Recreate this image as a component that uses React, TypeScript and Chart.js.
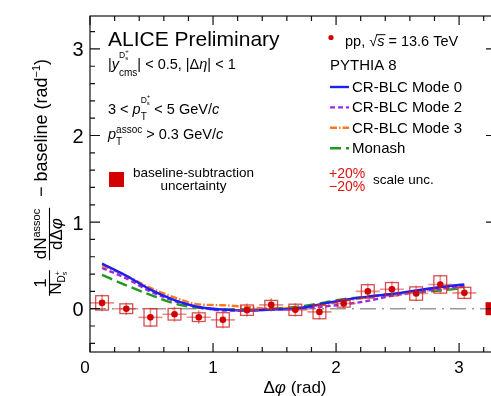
import React, { useEffect, useRef } from "react";
import { Chart, registerables } from "chart.js";

Chart.register(...registerables);

// ---------- data ----------
const X_BINS = [0.098, 0.295, 0.491, 0.687, 0.884, 1.08, 1.276, 1.473, 1.669, 1.865, 2.062, 2.258, 2.454, 2.651, 2.847, 3.043];
const DATA_Y = [0.067, 0.0, -0.1, -0.064, -0.098, -0.129, -0.017, 0.044, -0.013, -0.037, 0.06, 0.2, 0.225, 0.175, 0.28, 0.183];
const STAT_ERR = [0.096, 0.073, 0.11, 0.087, 0.077, 0.1, 0.077, 0.077, 0.077, 0.087, 0.06, 0.09, 0.09, 0.09, 0.105, 0.07];
const SYST_ERR = [0.083, 0.056, 0.1, 0.067, 0.05, 0.083, 0.06, 0.052, 0.065, 0.079, 0.042, 0.077, 0.077, 0.077, 0.1, 0.064];
const X_ERR = 0.098;
const SYST_HALF_WIDTH = 0.052;
const BASELINE_UNC = 0.075;
const BASELINE_UNC_X = [3.215, 3.29];

const MODE0 = [0.52, 0.38, 0.22, 0.1, 0.02, -0.01, -0.02, -0.01, 0.0, 0.05, 0.1, 0.14, 0.17, 0.21, 0.25, 0.28];
const MODE2 = [0.47, 0.35, 0.2, 0.09, 0.02, -0.02, -0.02, -0.01, 0.0, 0.02, 0.05, 0.09, 0.15, 0.19, 0.23, 0.26];
const MODE3 = [0.5, 0.38, 0.24, 0.13, 0.05, 0.04, 0.02, 0.0, 0.01, 0.04, 0.09, 0.13, 0.17, 0.2, 0.23, 0.25];
const MONASH = [0.39, 0.27, 0.16, 0.06, 0.01, -0.01, -0.01, 0.0, 0.02, 0.06, 0.11, 0.14, 0.17, 0.19, 0.21, 0.24];

const X_TICKS = [0, 1, 2, 3];
const Y_TICKS = [0, 1, 2, 3];
const X_RANGE = [0, 3.3];
const Y_RANGE = [-0.5, 3.38];
const MINOR_STEP = 0.2;

const MODELS = [
  { label: "CR-BLC Mode 0", values: MODE0, color: "#1f1ff5", dash: [] as number[] },
  { label: "CR-BLC Mode 2", values: MODE2, color: "#9a2be2", dash: [5, 3] },
  { label: "CR-BLC Mode 3", values: MODE3, color: "#ff7a1f", dash: [7, 2, 1.5, 2] },
  { label: "Monash", values: MONASH, color: "#1f9a1f", dash: [11, 5] },
];

// ---------- text helpers ----------
const FONT = '"Liberation Sans", Arial, Helvetica, sans-serif';
type Part = { t?: string; s?: number; dy?: number; i?: boolean; c?: string; o?: boolean; sup?: Part[]; sub?: Part[] };

function fontOf(p: Part) {
  return `${p.i ? "italic " : ""}${p.s || 14}px ${FONT}`;
}
function widthOf(ctx: CanvasRenderingContext2D, parts: Part[]): number {
  let w = 0;
  for (const p of parts) {
    if (p.sup || p.sub) {
      w += Math.max(p.sup ? widthOf(ctx, p.sup) : 0, p.sub ? widthOf(ctx, p.sub) : 0);
    } else {
      ctx.font = fontOf(p);
      w += ctx.measureText(p.t || "").width;
    }
  }
  return w;
}
function drawParts(ctx: CanvasRenderingContext2D, x: number, y: number, parts: Part[], color = "#000"): number {
  ctx.textAlign = "left";
  ctx.textBaseline = "alphabetic";
  for (const p of parts) {
    const by = y + (p.dy || 0);
    if (p.sup || p.sub) {
      const a = p.sup ? drawParts(ctx, x, by, p.sup, color) : x;
      const b = p.sub ? drawParts(ctx, x, by, p.sub, color) : x;
      x = Math.max(a, b);
    } else {
      ctx.font = fontOf(p);
      ctx.fillStyle = p.c || color;
      ctx.fillText(p.t || "", x, by);
      const w = ctx.measureText(p.t || "").width;
      if (p.o) {
        ctx.strokeStyle = p.c || color;
        ctx.lineWidth = 1;
        ctx.beginPath();
        ctx.moveTo(x - 1, by - (p.s || 14) * 0.78);
        ctx.lineTo(x + w + 1, by - (p.s || 14) * 0.78);
        ctx.stroke();
      }
      x += w;
    }
  }
  return x;
}
function drawCentered(ctx: CanvasRenderingContext2D, cx: number, y: number, parts: Part[], color = "#000") {
  const w = widthOf(ctx, parts);
  drawParts(ctx, cx - w / 2, y, parts, color);
  return w;
}

const DS_SUP = (s: number, dy: number): Part[] => [
  { t: "D", s, dy },
  { dy, sup: [{ t: "+", s: s * 0.7, dy: -s * 0.55 }], sub: [{ t: "s", s: s * 0.7, dy: s * 0.2 }] },
];

// ---------- plugin ----------
const deco = {
  id: "deco",
  beforeDatasetsDraw(chart: any) {
    const { ctx, chartArea: ca, scales } = chart;
    const y0 = scales.y.getPixelForValue(0);
    ctx.save();
    ctx.strokeStyle = "#9a9a9a";
    ctx.lineWidth = 1.5;
    ctx.setLineDash([16, 6, 2, 6]);
    ctx.beginPath();
    ctx.moveTo(ca.left, y0);
    ctx.lineTo(ca.right, y0);
    ctx.stroke();
    ctx.restore();
  },
  beforeDatasetDraw(chart: any, args: any) {
    if (args.index !== 0) return;
    const { ctx, scales } = chart;
    const xs = scales.x, ys = scales.y;
    ctx.save();
    X_BINS.forEach((xv, i) => {
      const yv = DATA_Y[i];
      const px = xs.getPixelForValue(xv);
      const py = ys.getPixelForValue(yv);
      // stat error bars
      ctx.strokeStyle = "rgba(222,70,70,0.6)";
      ctx.lineWidth = 1.6;
      ctx.beginPath();
      ctx.moveTo(xs.getPixelForValue(xv - X_ERR), py);
      ctx.lineTo(xs.getPixelForValue(xv + X_ERR), py);
      ctx.moveTo(px, ys.getPixelForValue(yv - STAT_ERR[i]));
      ctx.lineTo(px, ys.getPixelForValue(yv + STAT_ERR[i]));
      ctx.stroke();
      // syst box
      const x1 = xs.getPixelForValue(xv - SYST_HALF_WIDTH);
      const x2 = xs.getPixelForValue(xv + SYST_HALF_WIDTH);
      const y1 = ys.getPixelForValue(yv + SYST_ERR[i]);
      const y2 = ys.getPixelForValue(-SYST_ERR[i] + yv);
      ctx.strokeStyle = "rgba(205,35,35,0.8)";
      ctx.lineWidth = 1.3;
      ctx.strokeRect(x1, y1, x2 - x1, y2 - y1);
    });
    ctx.restore();
  },
  afterDraw(chart: any) {
    const { ctx, chartArea: ca, scales } = chart;
    const xs = scales.x, ys = scales.y;
    const H = chart.height;
    ctx.save();

    // baseline-subtraction uncertainty box at right edge
    ctx.fillStyle = "#d40000";
    {
      const x1 = xs.getPixelForValue(BASELINE_UNC_X[0]);
      const x2 = xs.getPixelForValue(BASELINE_UNC_X[1]);
      const y1 = ys.getPixelForValue(BASELINE_UNC);
      const y2 = ys.getPixelForValue(-BASELINE_UNC);
      ctx.fillRect(x1, y1, x2 - x1, y2 - y1);
    }

    // frame
    ctx.strokeStyle = "#111";
    ctx.lineWidth = 1.2;
    ctx.strokeRect(ca.left, ca.top, ca.right - ca.left, ca.bottom - ca.top);

    // ticks
    ctx.beginPath();
    for (let k = 0; X_RANGE[0] + k * MINOR_STEP <= X_RANGE[1] + 1e-9; k++) {
      const v = X_RANGE[0] + k * MINOR_STEP;
      const major = Math.abs(v - Math.round(v)) < 1e-6;
      const len = major ? 9 : 5;
      const p = xs.getPixelForValue(v);
      ctx.moveTo(p, ca.bottom);
      ctx.lineTo(p, ca.bottom - len);
      ctx.moveTo(p, ca.top);
      ctx.lineTo(p, ca.top + len);
    }
    for (let k = 1; Y_RANGE[0] + k * 0.1 <= Y_RANGE[1]; k++) {
      const v = Math.round((Y_RANGE[0] + k * 0.1) * 10) / 10;
      if (Math.abs(v / MINOR_STEP - Math.round(v / MINOR_STEP)) > 1e-6) continue;
      const major = Math.abs(v - Math.round(v)) < 1e-6;
      const len = major ? 10 : 5;
      const p = ys.getPixelForValue(v);
      ctx.moveTo(ca.left, p);
      ctx.lineTo(ca.left + len, p);
      ctx.moveTo(ca.right, p);
      ctx.lineTo(ca.right - len, p);
    }
    ctx.stroke();

    // tick labels
    ctx.fillStyle = "#000";
    X_TICKS.forEach((v) => {
      const p = xs.getPixelForValue(v) + (v === 0 ? -5 : 0);
      drawCentered(ctx, p, 373, [{ t: String(v), s: 17 }]);
    });
    Y_TICKS.forEach((v) => {
      const p = ys.getPixelForValue(v);
      ctx.font = `20px ${FONT}`;
      ctx.textAlign = "right";
      ctx.textBaseline = "alphabetic";
      ctx.fillText(String(v), 83.5, p + 7.5);
    });

    // x title
    drawCentered(ctx, 295, 393, [{ t: "Δ", s: 17 }, { t: "φ", s: 17, i: true }, { t: " (rad)", s: 17 }]);

    // y title (rotated)
    ctx.save();
    ctx.translate(0, H);
    ctx.rotate(-Math.PI / 2);
    ctx.strokeStyle = "#000";
    ctx.lineWidth = 1.1;
    {
      // fraction 1
      const c1 = 113;
      const wn = drawCentered(ctx, c1, 45.5, [{ t: "1", s: 17 }]);
      const den: Part[] = [{ t: "N", s: 17 }, ...DS_SUP(10, 4)];
      const wd = drawCentered(ctx, c1, 61, den);
      const bw = Math.max(wn, wd) + 2;
      ctx.beginPath();
      ctx.moveTo(c1 - bw / 2, 49.5);
      ctx.lineTo(c1 + bw / 2, 49.5);
      ctx.stroke();
      // fraction 2
      const c2 = 162;
      const wn2 = drawCentered(ctx, c2, 46, [{ t: "dN", s: 17 }, { t: "assoc", s: 11, dy: -6.5 }]);
      const wd2 = drawCentered(ctx, c2, 62, [{ t: "dΔ", s: 17 }, { t: "φ", s: 17, i: true }]);
      const bw2 = Math.max(wn2, wd2) + 2;
      ctx.beginPath();
      ctx.moveTo(c2 - bw2 / 2, 49.5);
      ctx.lineTo(c2 + bw2 / 2, 49.5);
      ctx.stroke();
      // rest
      drawParts(ctx, 199, 47, [{ t: "− baseline (rad", s: 18 }, { t: "−1", s: 11, dy: -7.5 }, { t: ")", s: 18 }]);
    }
    ctx.restore();

    // left annotations
    drawParts(ctx, 108, 46, [{ t: "ALICE Preliminary", s: 21 }]);
    drawParts(ctx, 108, 69, [
      { t: "|", s: 14.5 },
      { t: "y", s: 14.5, i: true },
      { sup: DS_SUP(8.5, -11), sub: [{ t: "cms", s: 10, dy: 7 }] },
      { t: "| < 0.5, |Δ", s: 14.5 },
      { t: "η", s: 14.5, i: true },
      { t: "| < 1", s: 14.5 },
    ]);
    drawParts(ctx, 108, 114, [
      { t: "3 < ", s: 14.5 },
      { t: "p", s: 14.5, i: true },
      { sup: DS_SUP(8.5, -11), sub: [{ t: "T", s: 10, dy: 6 }] },
      { t: " < 5 GeV/", s: 14.5 },
      { t: "c", s: 14.5, i: true },
    ]);
    drawParts(ctx, 108, 139, [
      { t: "p", s: 14.5, i: true },
      { sup: [{ t: "assoc", s: 10, dy: -6.5 }], sub: [{ t: "T", s: 10, dy: 6 }] },
      { t: " > 0.3 GeV/", s: 14.5 },
      { t: "c", s: 14.5, i: true },
    ]);
    ctx.fillStyle = "#d40000";
    ctx.fillRect(109, 172, 15, 15);
    drawCentered(ctx, 193.5, 177, [{ t: "baseline-subtraction", s: 13.5 }]);
    drawCentered(ctx, 193.5, 189.5, [{ t: "uncertainty", s: 13.5 }]);

    // legend
    ctx.fillStyle = "#d40000";
    ctx.beginPath();
    ctx.arc(331, 37.5, 2.6, 0, Math.PI * 2);
    ctx.fill();
    drawParts(ctx, 345, 46, [
      { t: "pp, ", s: 14.5 },
      { t: "√", s: 14.5 },
      { t: "s", s: 14.5, i: true, o: true },
      { t: " = 13.6 TeV", s: 14.5 },
    ]);
    drawParts(ctx, 330, 70, [{ t: "PYTHIA 8", s: 15 }]);
    MODELS.forEach((m, i) => {
      const by = 92 + i * 20.4;
      ctx.save();
      ctx.strokeStyle = m.color;
      ctx.lineWidth = 2.4;
      ctx.setLineDash(m.dash);
      ctx.beginPath();
      ctx.moveTo(330, by - 5);
      ctx.lineTo(349, by - 5);
      ctx.stroke();
      ctx.restore();
      drawParts(ctx, 352, by, [{ t: m.label, s: 15 }]);
    });
    drawParts(ctx, 329, 178, [{ t: "+20%", s: 14, c: "#e01010" }]);
    drawParts(ctx, 329, 191, [{ t: "−20%", s: 14, c: "#e01010" }]);
    drawParts(ctx, 373, 184, [{ t: "scale unc.", s: 13.5 }]);

    ctx.restore();
  },
};

export default function App() {
  const ref = useRef<HTMLCanvasElement>(null);
  useEffect(() => {
    document.body.style.margin = "0";
    const datasets: any[] = [
      {
        label: "pp, √s = 13.6 TeV",
        data: X_BINS.map((x, i) => ({ x, y: DATA_Y[i] })),
        showLine: false,
        pointRadius: 3.3,
        pointBackgroundColor: "#d00000",
        pointBorderWidth: 0,
        pointStyle: "circle",
      },
      ...MODELS.map((m) => ({
        label: m.label,
        data: X_BINS.map((x, i) => ({ x, y: m.values[i] })),
        showLine: true,
        pointRadius: 0,
        borderColor: m.color,
        borderWidth: 2.4,
        borderDash: m.dash,
        cubicInterpolationMode: "monotone",
        fill: false,
      })),
    ];
    const chart = new Chart(ref.current!, {
      type: "scatter",
      data: { datasets },
      options: {
        responsive: false,
        animation: false,
        devicePixelRatio: 1,
        layout: { padding: { left: 0, right: 4, top: 16, bottom: 0 } },
        plugins: { legend: { display: false }, tooltip: { enabled: false } },
        scales: {
          x: {
            type: "linear",
            min: X_RANGE[0],
            max: X_RANGE[1],
            grid: { display: false, drawTicks: false },
            border: { display: false },
            ticks: { display: false },
            afterFit: (s: any) => {
              s.height = 44;
            },
          },
          y: {
            type: "linear",
            min: Y_RANGE[0],
            max: Y_RANGE[1],
            grid: { display: false, drawTicks: false },
            border: { display: false },
            ticks: { display: false },
            afterFit: (s: any) => {
              s.width = 90;
            },
          },
        },
      } as any,
      plugins: [deco],
    });
    return () => chart.destroy();
  }, []);
  return (
    <div style={{ width: 491, height: 396, overflow: "hidden", background: "#fff" }}>
      <canvas ref={ref} width={500} height={396} style={{ display: "block", width: 500, height: 396 }} />
    </div>
  );
}
